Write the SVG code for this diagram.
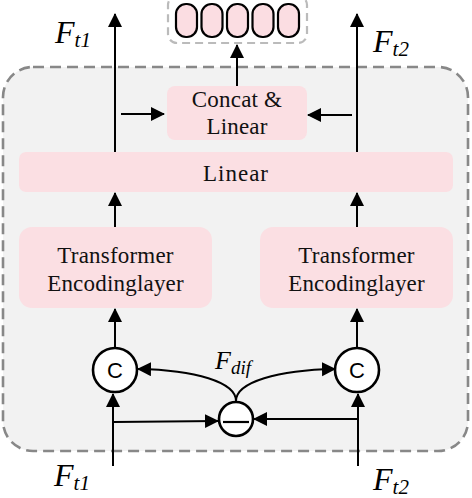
<svg xmlns="http://www.w3.org/2000/svg" width="472" height="498" viewBox="0 0 472 498">
<defs>
<style>
.box{fill:#fbdfe3;stroke:none}
.lbl{font-family:"Liberation Serif","Times New Roman",serif;font-size:23px;fill:#111;text-anchor:middle;letter-spacing:0.2px}
.conn{stroke:#000;stroke-width:2;fill:none}
.arr{marker-end:url(#ah)}
.circ{fill:#fff;stroke:#000;stroke-width:2.6}
.math{font-family:"Liberation Serif","Times New Roman",serif;font-style:italic;fill:#000}
.pill{fill:#fbdde2;stroke:#000;stroke-width:2.2}
</style>
<marker id="ah" markerUnits="userSpaceOnUse" markerWidth="15" markerHeight="15" refX="13" refY="7" orient="auto">
<path d="M0,0 L14,7 L0,14 z" fill="#000"/>
</marker>
</defs>
<rect width="472" height="498" fill="#fff"/>
<g id="container">
<rect x="3" y="67" width="465" height="384" rx="30" fill="#f2f2f2" stroke="#888" stroke-width="2.6" stroke-dasharray="11,6"/>
</g>
<g id="output">
<rect x="168" y="-4" width="139" height="47" rx="9" fill="#fff" stroke="#bbb" stroke-width="2.2" stroke-dasharray="8,5"/>
<rect class="pill" x="176" y="4" width="21" height="33" rx="10"/>
<rect class="pill" x="201.5" y="4" width="21" height="33" rx="10"/>
<rect class="pill" x="227" y="4" width="21" height="33" rx="10"/>
<rect class="pill" x="252.5" y="4" width="21" height="33" rx="10"/>
<rect class="pill" x="278" y="4" width="21" height="33" rx="10"/>
</g>
<g id="concat">
<rect class="box" x="167" y="86" width="140" height="54" rx="8"/>
<text class="lbl" x="237" y="107">Concat &amp;</text>
<text class="lbl" x="237" y="134">Linear</text>
</g>
<g id="linear">
<rect class="box" x="19" y="152" width="434" height="40" rx="7"/>
<text class="lbl" x="236" y="181" style="letter-spacing:1px">Linear</text>
</g>
<g id="te1">
<rect class="box" x="19" y="227" width="193" height="81" rx="13"/>
<text class="lbl" x="115.5" y="263">Transformer</text>
<text class="lbl" x="115.5" y="291">Encodinglayer</text>
</g>
<g id="te2">
<rect class="box" x="260" y="227" width="193" height="81" rx="13"/>
<text class="lbl" x="356.5" y="263">Transformer</text>
<text class="lbl" x="356.5" y="291">Encodinglayer</text>
</g>
<g id="connectors">
<path class="conn arr" d="M115,152 L115,14"/>
<path class="conn arr" d="M357,152 L357,14"/>
<path class="conn arr" d="M121,114 L164,114"/>
<path class="conn arr" d="M352,115 L308,115"/>
<path class="conn arr" d="M237,86 L237,45"/>
<path class="conn arr" d="M115,227 L115,193"/>
<path class="conn arr" d="M357,227 L357,193"/>
<path class="conn arr" d="M115,347 L115,309"/>
<path class="conn arr" d="M357,347 L357,309"/>
<path class="conn arr" d="M113,466 L113,394"/>
<path class="conn arr" d="M358,466 L358,394"/>
<path class="conn arr" d="M114,422 L218,421"/>
<path class="conn arr" d="M358,419 L254,419"/>
<path class="conn arr" d="M236,401 C236,382 195,370 138,369"/>
<path class="conn arr" d="M236,401 C236,382 278,370 335,369"/>
</g>
<g id="c1">
<circle class="circ" cx="115" cy="370" r="22"/>
<text x="115" y="378" font-family="Liberation Sans, Arial, sans-serif" font-size="22" text-anchor="middle">C</text>
</g>
<g id="c2">
<circle class="circ" cx="357" cy="370" r="22"/>
<text x="357" y="378" font-family="Liberation Sans, Arial, sans-serif" font-size="22" text-anchor="middle">C</text>
</g>
<g id="minus">
<circle class="circ" cx="236" cy="419" r="17"/>
<line x1="223" y1="422" x2="249" y2="422" stroke="#000" stroke-width="2.2"/>
</g>
<g id="labels">
<text class="math" x="55" y="43" font-size="32">F<tspan font-size="21" dy="4">t1</tspan></text>
<text class="math" x="373" y="52" font-size="32">F<tspan font-size="21" dy="4">t2</tspan></text>
<text class="math" x="215" y="369" font-size="26">F<tspan font-size="19" dy="5">dif</tspan></text>
<text class="math" x="54" y="486" font-size="32">F<tspan font-size="21" dy="4">t1</tspan></text>
<text class="math" x="373" y="490" font-size="32">F<tspan font-size="21" dy="4">t2</tspan></text>
</g>
</svg>
